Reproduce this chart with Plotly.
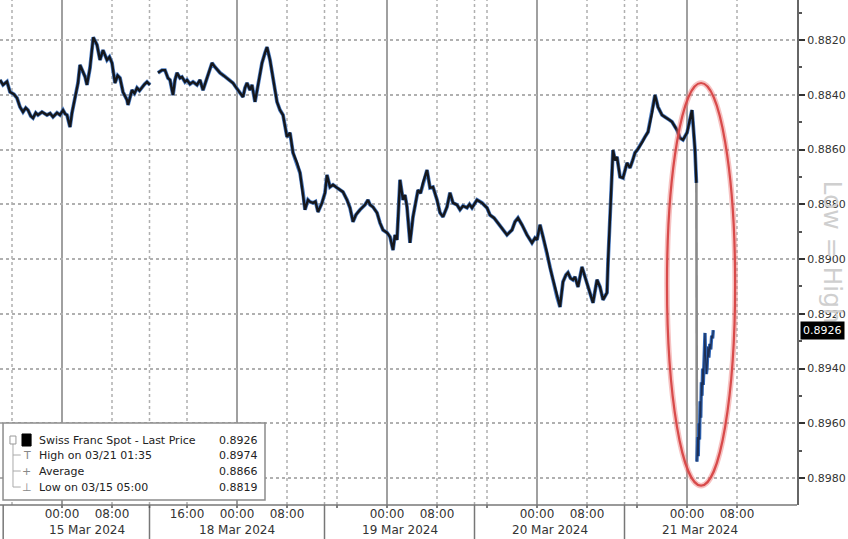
import plotly.graph_objects as go

# ---------------- data (x = trading hours since 15 Mar 2024 00:00, weekend compressed) -------------
hours_15 = [-9.92, -9.44, -8.8, -8.32, -7.7, -7.2, -6.72, -6.24, -5.8, -5.44, -5.0, -4.64, -4.2, -3.84,
            -3.2, -2.8, -2.4, -1.9, -1.44, -0.8, -0.32, 0.16, 0.5, 0.8, 1.28, 1.6, 2.08, 2.56, 2.88,
            3.36, 3.7, 4.0, 4.48, 5.0, 5.3, 5.6, 6.08, 6.56, 7.2, 7.6, 8.0, 8.48, 8.9, 9.28, 9.76,
            10.4, 10.56, 11.2, 11.6, 12.0, 12.4, 12.8, 13.2, 13.6, 14.08]
price_15 = [0.88346, 0.88364, 0.88352, 0.8839, 0.88398, 0.88412, 0.88445, 0.88463, 0.88448, 0.88456,
            0.88478, 0.88485, 0.88466, 0.88474, 0.88463, 0.88470, 0.88474, 0.88468, 0.88481, 0.88466,
            0.88474, 0.88456, 0.88470, 0.88474, 0.88518, 0.88466, 0.88408, 0.88357, 0.88291, 0.88317,
            0.88335, 0.88364, 0.88302, 0.8819, 0.88205, 0.88218, 0.88273, 0.88237, 0.88273, 0.88262,
            0.88284, 0.88357, 0.88330, 0.88339, 0.8839, 0.88419, 0.88437, 0.88383, 0.88395, 0.88375,
            0.88385, 0.88372, 0.88362, 0.88353, 0.88364]

hours_wk = [15.36, 16.0, 16.48, 16.96, 17.28, 17.76, 18.08, 18.4, 18.88, 19.2, 19.68, 20.0, 20.48,
            20.96, 21.6, 22.08, 22.56, 23.2, 24.0, 24.48, 25.28, 25.92, 26.4, 26.88, 27.36, 28.16,
            28.64, 28.96, 29.28, 29.6, 30.08, 30.4, 30.88, 31.36, 32.0, 32.48, 32.8, 33.28, 33.76,
            34.4, 34.88, 35.36, 36.0, 36.48, 36.96, 37.6, 38.08, 38.56, 38.88, 39.36, 39.68, 40.16,
            40.56, 40.96, 41.6, 42.08, 42.4, 42.88, 43.36, 44.0, 44.48, 44.96, 45.6, 46.08, 46.56,
            47.04, 47.68, 48.48, 48.96, 49.28, 49.76, 50.4, 50.88, 51.36, 52.0, 52.48, 52.96, 53.28,
            53.6, 54.08, 54.56, 54.88, 55.2, 55.68, 56.16, 56.64, 56.96, 57.36, 57.76, 58.4, 58.88,
            59.36, 60.0, 60.48, 60.96, 61.6, 62.08, 62.56, 63.2, 63.68, 64.16, 64.8, 65.2, 65.6, 66.4,
            67.2, 68.0, 68.48, 69.12, 69.6, 70.4, 71.2, 71.68, 72.0, 72.48, 72.96, 73.6, 74.4, 75.2,
            75.68, 76.0, 76.48, 76.96, 77.6, 78.08, 78.56, 79.2, 79.68, 80.16, 80.64, 80.96, 81.36,
            81.76, 82.08, 82.56, 83.2, 83.68, 84.08, 84.48, 84.96, 85.6, 86.08, 86.56, 87.2, 87.36,
            87.68, 88.0, 88.16, 88.5, 88.8, 89.28, 89.76, 90.4, 90.88, 91.3, 91.68, 92.1, 92.48, 92.9,
            93.28, 93.76, 94.4, 94.88, 95.36, 96.0, 96.4, 96.8, 97.2, 97.6, 98.0, 98.4, 98.88, 99.36,
            100.0, 100.48, 100.8, 100.96, 101.28, 101.5]
price_wk = [0.8832, 0.8831, 0.8831, 0.88339, 0.88346, 0.88401, 0.88346, 0.8832, 0.88339, 0.88335,
            0.88353, 0.88346, 0.88361, 0.88353, 0.88364, 0.88346, 0.88383, 0.88335, 0.88284, 0.88299,
            0.8832, 0.88331, 0.88339, 0.88346, 0.88357, 0.88383, 0.88397, 0.88408, 0.88375, 0.88357,
            0.88383, 0.88364, 0.88426, 0.88364, 0.88284, 0.88247, 0.88226, 0.88273, 0.88346, 0.88426,
            0.88456, 0.88474, 0.88554, 0.88539, 0.88612, 0.88649, 0.88685, 0.88758, 0.8882, 0.88784,
            0.88791, 0.88795, 0.88790, 0.88828, 0.88795, 0.88758, 0.88693, 0.88737, 0.88729, 0.8874,
            0.88748, 0.88755, 0.88784, 0.88813, 0.88864, 0.88838, 0.8882, 0.88802, 0.88784, 0.88802,
            0.8881, 0.88831, 0.88868, 0.88894, 0.88904, 0.88919, 0.88967, 0.88912, 0.8893, 0.88711,
            0.88784, 0.88766, 0.8881, 0.88941, 0.88846, 0.88784, 0.88748, 0.88760, 0.88722, 0.88675,
            0.8874, 0.88737, 0.88784, 0.88831, 0.88846, 0.8881, 0.88758, 0.88795, 0.88802, 0.8882,
            0.88806, 0.88813, 0.88800, 0.88813, 0.88784, 0.88795, 0.88813, 0.88839, 0.8885, 0.88864,
            0.88886, 0.88912, 0.88901, 0.88894, 0.88864, 0.8885, 0.88875, 0.88912, 0.88941, 0.88923,
            0.8893, 0.88875, 0.88919, 0.88977, 0.89032, 0.89076, 0.89138, 0.89175, 0.89083, 0.89058,
            0.8905, 0.89070, 0.89076, 0.89065, 0.89102, 0.89029, 0.89065, 0.89095, 0.89123, 0.8916,
            0.89076, 0.89102, 0.89149, 0.89123, 0.89014, 0.88857, 0.88686, 0.88602, 0.88640, 0.88627,
            0.887, 0.88704, 0.88649, 0.88667, 0.88640, 0.88612, 0.88600, 0.88583, 0.88570, 0.88554,
            0.88536, 0.88466, 0.88401, 0.88445, 0.88474, 0.88480, 0.88485, 0.88492, 0.88499, 0.88515,
            0.88529, 0.88558, 0.88565, 0.88539, 0.88481, 0.88456, 0.88503, 0.88602, 0.88722]

hours_after = [101.58, 101.7, 101.8, 101.9, 102.0, 102.1, 102.2, 102.3, 102.4, 102.5, 102.6, 102.75,
               102.88, 102.95, 103.1, 103.2, 103.35, 103.5, 103.65, 103.8, 103.95, 104.1, 104.2]
price_after = [0.8974, 0.8965, 0.8972, 0.8960, 0.8966, 0.8952, 0.8958, 0.8945, 0.8950, 0.8940,
               0.8946, 0.8930, 0.8927, 0.8935, 0.8942, 0.8940, 0.8932, 0.8936, 0.8931, 0.8933,
               0.8928, 0.8929, 0.8926]

y_tick_vals = [0.8820, 0.8840, 0.8860, 0.8880, 0.8900, 0.8920, 0.8940, 0.8960, 0.8980]
y_tick_text = ["0.8820", "0.8840", "0.8860", "0.8880", "0.8900", "0.8920", "0.8940", "0.8960", "0.8980"]

x_tick_hours = [0, 8, 20, 28, 36, 52, 60, 76, 84, 100, 108]
x_tick_text = ["00:00", "08:00", "16:00", "00:00", "08:00", "00:00", "08:00", "00:00", "08:00", "00:00", "08:00"]

date_label_hours = [4, 28, 54, 78, 102]
date_labels = ["15 Mar 2024", "18 Mar 2024", "19 Mar 2024", "20 Mar 2024", "21 Mar 2024"]

midnight_hours = [0, 28, 52, 76, 100]
dotted_hours = [-8, 8, 14, 20, 36, 42, 44, 60, 66, 68, 84, 90, 92, 108]
session_break_hours = [14, 42, 66, 90]

legend_labels = ["Swiss Franc Spot - Last Price", "High on 03/21 01:35", "Average", "Low on 03/15 05:00"]
legend_values = ["0.8926", "0.8974", "0.8866", "0.8819"]
last_price = 0.8926

highlight_hours = [96.8, 107.7]
highlight_prices = [0.88357, 0.89828]

FONT = "DejaVu Sans"

# ---------------- figure ----------------
fig = go.Figure()

main_x = hours_15 + [None] + hours_wk
main_y = price_15 + [None] + price_wk

fig.add_trace(go.Scatter(x=main_x, y=main_y, mode="lines",
                         line=dict(color="#4a7cc4", width=3.8), hoverinfo="skip", showlegend=False))
fig.add_trace(go.Scatter(x=main_x, y=main_y, mode="lines",
                         line=dict(color="#15171c", width=2.4), showlegend=False))
# sharp drop segment
fig.add_trace(go.Scatter(x=[hours_wk[-1], hours_after[0]], y=[price_wk[-1], price_after[0]], mode="lines",
                         line=dict(color="#8a8a8a", width=2.6), showlegend=False))
fig.add_trace(go.Scatter(x=hours_after, y=price_after, mode="lines",
                         line=dict(color="#2f66b8", width=3.4), showlegend=False))
fig.add_trace(go.Scatter(x=hours_after, y=price_after, mode="lines",
                         line=dict(color="#1d2f55", width=1.2), showlegend=False))

shapes = []
for h in midnight_hours:
    shapes.append(dict(type="line", xref="x", yref="paper", x0=h, x1=h, y0=0, y1=1,
                       line=dict(color="#a0a0a0", width=2), layer="below"))
for h in dotted_hours:
    shapes.append(dict(type="line", xref="x", yref="paper", x0=h, x1=h, y0=0, y1=1,
                       line=dict(color="#b0b0b0", width=1.5, dash="dot"), layer="below"))
for h in session_break_hours:
    shapes.append(dict(type="line", xref="x", yref="paper", x0=h, x1=h, y0=0, y1=-0.07,
                       line=dict(color="#777", width=1.5)))
# small x tick marks
for h in x_tick_hours + [14, 44, 68, 92]:
    shapes.append(dict(type="line", xref="x", yref="paper", x0=h, x1=h, y0=0, y1=-0.006,
                       line=dict(color="#555", width=1.5)))
# bottom border of plot
shapes.append(dict(type="line", xref="paper", yref="paper", x0=0, x1=1, y0=0, y1=0,
                   line=dict(color="#777", width=1.5)))
shapes.append(dict(type="line", xref="paper", yref="paper", x0=0.004, x1=0.004, y0=0, y1=-0.07,
                   line=dict(color="#777", width=1.5)))

# red highlight ellipse (glow + line)
shapes.append(dict(type="circle", xref="x", yref="y",
                   x0=highlight_hours[0], x1=highlight_hours[1],
                   y0=highlight_prices[0], y1=highlight_prices[1],
                   line=dict(color="rgba(235,120,120,0.45)", width=5.5)))
shapes.append(dict(type="circle", xref="x", yref="y",
                   x0=highlight_hours[0], x1=highlight_hours[1],
                   y0=highlight_prices[0], y1=highlight_prices[1],
                   line=dict(color="#d84a4a", width=2.2)))

# legend box (paper coords: y = 1 - px/505)
shapes.append(dict(type="rect", xref="paper", yref="paper", x0=0.0038, x1=0.3325, y0=0.0099, y1=0.1624,
                   fillcolor="white", line=dict(color="#8c8c8c", width=1.5)))
legend_y = [0.1287, 0.0990, 0.0673, 0.0356]
# legend tree
shapes.append(dict(type="line", xref="paper", yref="paper", x0=0.0163, x1=0.0163, y0=legend_y[0], y1=legend_y[-1],
                   line=dict(color="#aaa", width=1)))
shapes.append(dict(type="rect", xref="paper", yref="paper", x0=0.0125, x1=0.0200, y0=0.1208, y1=0.1366,
                   fillcolor="white", line=dict(color="#999", width=1)))
for yy in legend_y[1:]:
    shapes.append(dict(type="line", xref="paper", yref="paper", x0=0.0163, x1=0.026, y0=yy, y1=yy,
                       line=dict(color="#aaa", width=1)))
shapes.append(dict(type="rect", xref="paper", yref="paper", x0=0.0276, x1=0.0390, y0=0.1168, y1=0.1406,
                   fillcolor="black", line=dict(color="black", width=1)))

annotations = []
for h, lab in zip(date_label_hours, date_labels):
    annotations.append(dict(x=h, y=-0.0495, xref="x", yref="paper", text=lab, showarrow=False,
                            font=dict(family=FONT, size=12, color="#333"), yanchor="middle"))

legend_icons = ["", "T", "+", "⊥"]
for yy, lab, val, icon in zip(legend_y, legend_labels, legend_values, legend_icons):
    annotations.append(dict(x=0.0464, y=yy, xref="paper", yref="paper", text=lab, showarrow=False,
                            xanchor="left", yanchor="middle", font=dict(family=FONT, size=11, color="#222")))
    annotations.append(dict(x=0.326, y=yy, xref="paper", yref="paper", text=val, showarrow=False,
                            xanchor="right", yanchor="middle", font=dict(family=FONT, size=11, color="#222")))
    if icon:
        annotations.append(dict(x=0.0335, y=yy, xref="paper", yref="paper", text=icon, showarrow=False,
                                xanchor="center", yanchor="middle",
                                font=dict(family=FONT, size=11, color="#888")))

# watermark
annotations.append(dict(x=1.044, y=0.50, xref="paper", yref="paper", text="Low = High", showarrow=False,
                        textangle=90, font=dict(family=FONT, size=25, color="#cfcfcf"),
                        xanchor="center", yanchor="middle"))
# last price tag
annotations.append(dict(x=1, y=last_price, xref="paper", yref="y", text=f"{last_price:.4f}", showarrow=False,
                        xanchor="left", yanchor="middle", xshift=3, bgcolor="black", borderpad=2,
                        font=dict(family=FONT, size=11, color="white")))

fig.update_layout(
    width=848, height=539,
    margin=dict(l=0, r=51, t=0, b=34),
    paper_bgcolor="white", plot_bgcolor="white",
    showlegend=False,
    shapes=shapes,
    annotations=annotations,
    xaxis=dict(range=[-9.92, 117.6], tickmode="array", tickvals=x_tick_hours, ticktext=x_tick_text,
               showgrid=False, zeroline=False, ticks="", automargin=False,
               tickfont=dict(family=FONT, size=12, color="#333"), showline=False),
    yaxis=dict(side="right", range=[0.898986, 0.880539], tickmode="array", tickvals=y_tick_vals,
               ticktext=y_tick_text, showgrid=True, gridcolor="#b0b0b0", gridwidth=1.5, griddash="dot",
               zeroline=False, showline=True, linecolor="#666", linewidth=2, automargin=False,
               ticks="outside", ticklen=6, tickwidth=2, tickcolor="#333",
               tickfont=dict(family=FONT, size=11, color="#333"),
               minor=dict(tickmode="linear", tick0=0.8810, dtick=0.002, ticks="outside",
                          ticklen=3, tickcolor="#555", showgrid=False)),
)

fig.write_html("out.html", config={"displayModeBar": False},
               post_script="document.body.style.margin='0';document.body.style.overflow='hidden';")
